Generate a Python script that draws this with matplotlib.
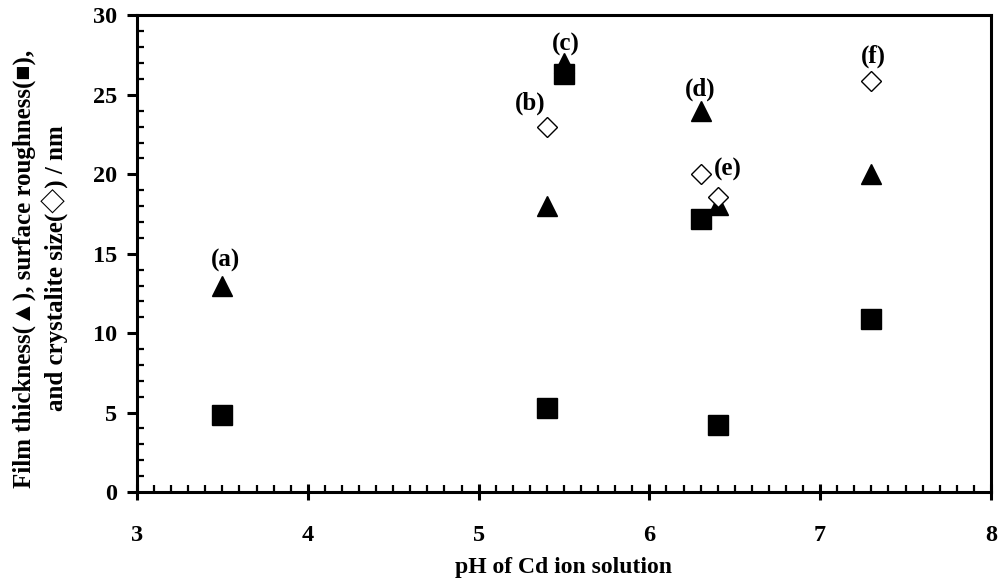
import matplotlib
matplotlib.use("Agg")
import matplotlib.pyplot as plt
from matplotlib.ticker import MultipleLocator

# pH of the Cd ion solution for each sample
ph_thick = [3.5, 5.4, 5.5, 6.3, 6.4, 7.3]
thickness = [13.0, 18.0, 27.0, 24.0, 18.1, 20.0]

ph_rough = [3.5, 5.4, 5.5, 6.3, 6.4, 7.3]
roughness = [4.85, 5.3, 26.3, 17.2, 4.2, 10.9]

ph_cryst = [5.4, 6.3, 6.4, 7.3]
crystallite = [23.0, 20.0, 18.6, 25.9]

labels = ["(a)", "(b)", "(c)", "(d)", "(e)", "(f)"]
label_x = [3.52, 5.30, 5.51, 6.30, 6.46, 7.31]
label_y = [14.55, 24.5, 28.2, 25.35, 20.3, 27.4]

plt.rcParams['font.family'] = ['Liberation Serif', 'DejaVu Sans']
plt.rcParams['font.weight'] = 'bold'

fig = plt.figure(figsize=(10.03, 5.84), dpi=100)
ax = fig.add_axes([0.1366, 0.1575, 0.8514, 0.816])

ax.plot(ph_rough, roughness, 's', color='black', ms=14.4, ls='none', zorder=3)
ax.plot(ph_thick, thickness, '^', color='black', ms=15, ls='none', zorder=2)
ax.plot(ph_cryst, crystallite, 'D', mfc='white', mec='black', mew=1.0,
        ms=10.2, ls='none', zorder=4)

for t, x, y in zip(labels, label_x, label_y):
    ax.text(x, y, t, ha='center', va='center', fontsize=18, fontweight='bold')

ax.set_xlim(3, 8)
ax.set_ylim(0, 30)
ax.xaxis.set_major_locator(MultipleLocator(1))
ax.xaxis.set_minor_locator(MultipleLocator(0.1))
ax.yaxis.set_major_locator(MultipleLocator(5))
ax.yaxis.set_minor_locator(MultipleLocator(1))

for s in ax.spines.values():
    s.set_linewidth(2.2)
ax.tick_params(axis='x', which='major', direction='inout', length=11, width=2.2,
               labelsize=17.5, pad=18)
ax.tick_params(axis='y', which='major', direction='out', length=7, width=2.2,
               labelsize=17.5, pad=7)
ax.tick_params(which='minor', direction='in', length=5, width=1.6)

ax.set_xlabel("pH of Cd ion solution", fontsize=17, fontweight='bold', labelpad=8)
ax.set_ylabel("Film thickness(\u25b2), surface roughness(\u25a0),\n"
              "and crystalite size(\u25c7) / nm",
              fontsize=18, fontweight='bold', linespacing=1.26,
              family=['Liberation Serif', 'Noto Sans CJK JP', 'DejaVu Sans'])
ax.yaxis.set_label_coords(-0.0795, 0.469)

fig.savefig("out.png", dpi=100)
